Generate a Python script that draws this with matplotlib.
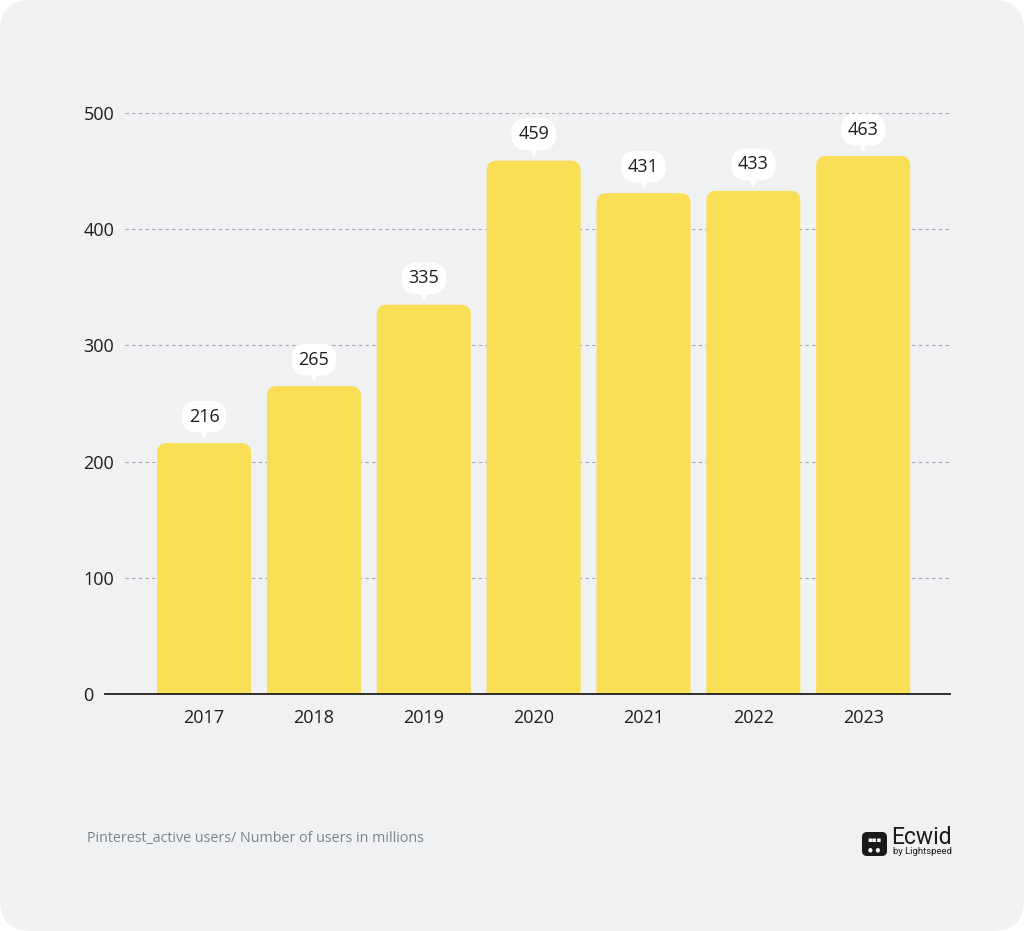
import matplotlib
matplotlib.use("Agg")
import matplotlib.pyplot as plt
import matplotlib.transforms as mtransforms
from matplotlib.patches import FancyBboxPatch

plt.rcParams['font.family'] = ['Open Sans', 'DejaVu Sans']

years = ['2017', '2018', '2019', '2020', '2021', '2022', '2023']
users = [216, 265, 335, 459, 431, 433, 463]
yticks = [0, 100, 200, 300, 400, 500]
footer = 'Pinterest_active users/ Number of users in millions'

bar_color = '#f8df56'
bg_color = '#f0f1f3'
text_color = '#1e1e1e'

fig = plt.figure(figsize=(10.24, 9.31), dpi=100, facecolor='white')

# rounded grey card behind everything
card = FancyBboxPatch((0.0, 0.0), 1.0, 1.0, boxstyle='round,pad=0,rounding_size=0.03',
                      mutation_aspect=1024 / 931, transform=fig.transFigure,
                      facecolor=bg_color, edgecolor='none', zorder=-10)
fig.patches.append(card)

ax_left, ax_right = 125, 950
ax = fig.add_axes([ax_left / 1024, 1 - 694 / 931, (ax_right - ax_left) / 1024, (694 - 113) / 931])
ax.set_facecolor('none')
ax.set_xlim(-0.72, 6.79)
ax.set_ylim(0, 500)

# aspect between one y unit and one x unit, in pixels
px_x = (ax_right - ax_left) / (6.79 + 0.72)
px_y = (694 - 113) / 500
aspect = px_x / px_y
width = 0.856

# pointer of bubbles sits a few px above the bar top
lift = ax.transData + mtransforms.ScaledTranslation(0, 9 / 100, fig.dpi_scale_trans)

for i, v in enumerate(users):
    p = FancyBboxPatch((i - width / 2, -30), width, v + 30,
                       boxstyle='round,pad=0,rounding_size=0.09',
                       mutation_aspect=aspect,
                       facecolor=bar_color, edgecolor='none', zorder=2)
    ax.add_patch(p)
    ax.plot(i, v, marker='v', markersize=7.5, color='white', transform=lift,
            zorder=4, markeredgewidth=0, clip_on=False)
    ax.annotate(str(v), xy=(i, v), xytext=(0, 19), textcoords='offset points',
                ha='center', va='center', fontsize=13, color=text_color, zorder=5,
                annotation_clip=False,
                bbox=dict(boxstyle='round,pad=0.38,rounding_size=0.85', fc='white', ec='none'))

ax.set_xticks(range(len(years)))
ax.set_xticklabels(years, fontsize=13, color=text_color)
ax.set_yticks(yticks)
ax.set_yticklabels([str(t) for t in yticks], fontsize=13, color=text_color, ha='left')
ax.tick_params(axis='x', length=0, pad=11)
ax.tick_params(axis='y', length=0, pad=30)

for t in yticks[1:]:
    ax.axhline(t, color='#a5a8ac', linewidth=0.8, linestyle=(0, (3, 3)), zorder=1)

for s in ['top', 'right', 'left', 'bottom']:
    ax.spines[s].set_visible(False)
# baseline reaches a bit further left than the grid
ax.plot([(105 - ax_left) / (ax_right - ax_left), 1], [0, 0], transform=ax.transAxes,
        color=text_color, linewidth=1.3, clip_on=False, zorder=6)

fig.text(87 / 1024, 1 - 839 / 931, footer, fontsize=10.3, color='#7d838a',
         ha='left', va='center')

# Ecwid logo
logo = FancyBboxPatch((862 / 1024, 1 - 856 / 931), 25 / 1024, 24 / 931,
                      boxstyle='round,pad=0,rounding_size=0.005',
                      mutation_aspect=1024 / 931, transform=fig.transFigure,
                      facecolor='#1a1a1a', edgecolor='none')
fig.patches.append(logo)
fig.text(874.5 / 1024, 1 - 841 / 931, '\u25aa\u25aa\u25aa', fontsize=5, color='white',
         ha='center', va='center')
fig.text(874.5 / 1024, 1 - 850 / 931, '\u25cf  \u25cf', fontsize=4, color='white',
         ha='center', va='center')
fig.text(891 / 1024, 1 - 838 / 931, 'Ecwid', fontsize=16.5, color='#1a1a1a',
         ha='left', va='center', family=['Roboto', 'DejaVu Sans'])
fig.text(893 / 1024, 1 - 852 / 931, 'by Lightspeed', fontsize=6.8, color='#1a1a1a',
         ha='left', va='center', family=['Roboto', 'DejaVu Sans'])

fig.savefig('out.png', dpi=100, facecolor='white')
